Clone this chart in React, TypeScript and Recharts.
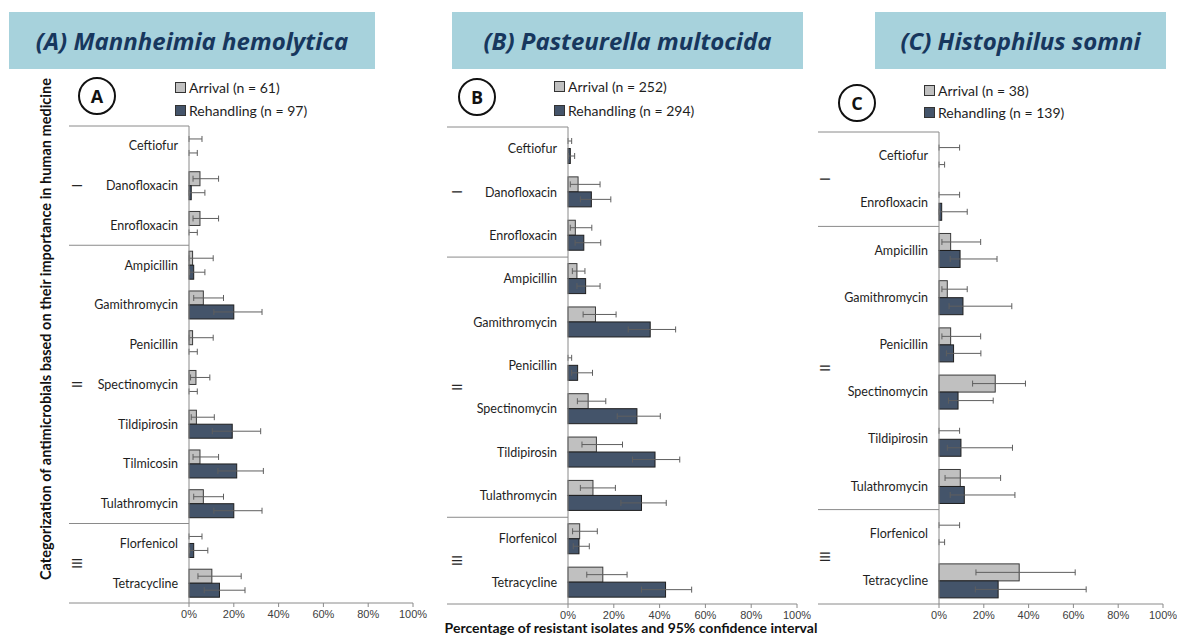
import React from "react"
import { BarChart, Bar, XAxis, YAxis, ErrorBar } from "recharts"

// (A) Mannheimia hemolytica
const categoriesA = ["Ceftiofur", "Danofloxacin", "Enrofloxacin", "Ampicillin", "Gamithromycin", "Penicillin", "Spectinomycin", "Tildipirosin", "Tilmicosin", "Tulathromycin", "Florfenicol", "Tetracycline"]
const groupsA = [3, 7, 2]
const arrivalA = [0, 4.9, 4.9, 1.6, 6.4, 1.6, 3.1, 3.3, 4.9, 6.4, 0, 10.2]
const arrivalLoA = [0, 1.8, 1.8, 0.1, 2.1, 0.1, 0.7, 1.0, 1.8, 2.1, 0, 4.0]
const arrivalHiA = [5.8, 13.2, 13.2, 10.8, 15.4, 10.8, 9.3, 11.3, 13.2, 15.4, 5.8, 23.3]
const rehandA = [0, 1.0, 0, 2.1, 20.0, 0, 0, 19.3, 21.3, 20.0, 2.1, 13.6]
const rehandLoA = [0, 0, 0, 0.3, 11.1, 0, 0, 10.4, 12.9, 11.1, 0.3, 6.8]
const rehandHiA = [3.7, 7.1, 3.7, 7.1, 32.6, 3.7, 3.7, 32.0, 33.2, 32.6, 8.4, 25.0]

// (B) Pasteurella multocida
const categoriesB = ["Ceftiofur", "Danofloxacin", "Enrofloxacin", "Ampicillin", "Gamithromycin", "Penicillin", "Spectinomycin", "Tildipirosin", "Tulathromycin", "Florfenicol", "Tetracycline"]
const groupsB = [3, 6, 2]
const arrivalB = [0, 4.4, 3.2, 3.9, 12.0, 0, 8.8, 12.4, 10.9, 5.1, 15.2]
const arrivalLoB = [0, 1.0, 1.0, 1.9, 6.6, 0, 4.1, 6.1, 5.4, 2.0, 8.2]
const arrivalHiB = [1.6, 14.0, 10.4, 7.4, 21.0, 1.6, 16.5, 23.8, 20.7, 12.8, 25.8]
const rehandB = [1.0, 10.2, 6.9, 7.7, 35.9, 4.2, 30.1, 38.0, 32.1, 4.8, 42.6]
const rehandLoB = [0.1, 5.4, 3.1, 3.9, 26.3, 1.6, 21.5, 28.2, 23.1, 2.3, 32.1]
const rehandHiB = [2.9, 18.7, 14.3, 14.0, 47.0, 10.7, 40.3, 48.8, 42.9, 9.3, 54.0]

// (C) Histophilus somni
const categoriesC = ["Ceftiofur", "Enrofloxacin", "Ampicillin", "Gamithromycin", "Penicillin", "Spectinomycin", "Tildipirosin", "Tulathromycin", "Florfenicol", "Tetracycline"]
const groupsC = [2, 6, 2]
const arrivalC = [0, 0, 5.2, 3.7, 5.2, 25.1, 0, 9.5, 0, 35.8]
const arrivalLoC = [0, 0, 1.3, 1.3, 1.3, 15.0, 0, 2.7, 0, 16.5]
const arrivalHiC = [9.2, 9.2, 18.6, 12.6, 18.6, 38.6, 9.2, 27.5, 9.2, 60.8]
const rehandC = [0, 1.2, 9.4, 10.7, 6.5, 8.5, 9.8, 11.3, 0, 26.4]
const rehandLoC = [0, 0, 5.0, 4.5, 3.3, 4.2, 3.7, 5.0, 0, 16.2]
const rehandHiC = [2.5, 12.6, 25.9, 32.5, 18.7, 24.2, 32.8, 33.9, 2.5, 65.7]

const xTicks = [0, 20, 40, 60, 80, 100]
const romans = ["I", "II", "III"]

const ARRIVAL_FILL = "#c0c0c0"
const REHAND_FILL = "#44546a"
const LINE = "#8a8a8a"
const LABEL_FONT = "Lato, 'Open Sans', sans-serif"

function buildRows(cats: string[], a: number[], aLo: number[], aHi: number[], r: number[], rLo: number[], rHi: number[]) {
  return cats.map((name, i) => ({
    name,
    arrival: a[i],
    arrivalErr: [a[i] - aLo[i], aHi[i] - a[i]],
    rehand: r[i],
    rehandErr: [r[i] - rLo[i], rHi[i] - r[i]],
  }))
}

interface PanelCfg {
  left: number
  width: number
  axisX: number // y-axis line, in chart coords
  frameX: number // where the category frame lines start
  romanX: number
  plotTop: number
  plotBottom: number
  plotRight: number
}

// y-axis tick: category label + group frame lines + roman numerals
function CategoryTick(props: any) {
  const { y, payload, index, cfg, groups, n } = props
  const c: PanelCfg = cfg
  const half =
    typeof payload?.offset === "number" && payload.offset > 0
      ? payload.offset
      : (c.plotBottom - c.plotTop) / n / 2

  const starts: number[] = []
  let acc = 0
  groups.forEach((g: number) => {
    starts.push(acc)
    acc += g
  })
  const gi = starts.indexOf(index)
  const romanY = y - half + (gi >= 0 ? groups[gi] : 0) * half

  return (
    <g>
      <text
        x={c.axisX - 11}
        y={y}
        textAnchor="end"
        dominantBaseline="central"
        fontFamily={LABEL_FONT}
        fontSize={12.5}
        fill="#1e1e1e"
      >
        {payload.value}
      </text>
      {gi >= 0 && (
        <line x1={c.frameX} x2={c.axisX} y1={y - half} y2={y - half} stroke={LINE} strokeWidth={1} />
      )}
      {gi >= 0 && (
        <text
          x={c.romanX}
          y={romanY}
          textAnchor="middle"
          dominantBaseline="central"
          fontFamily={LABEL_FONT}
          fontSize={13}
          fill="#262626"
          transform={`rotate(-90, ${c.romanX}, ${romanY})`}
        >
          {romans[gi]}
        </text>
      )}
      {index === n - 1 && (
        <line x1={c.frameX} x2={c.axisX} y1={y + half} y2={y + half} stroke={LINE} strokeWidth={1} />
      )}
    </g>
  )
}

// bar outline; zero-length bars draw nothing but still carry their error bar
function BarShape(props: any) {
  const { x, y, width, height, fill, stroke } = props
  if (!(width > 0.5)) return <g />
  return <rect x={x} y={y} width={width} height={height} fill={fill} stroke={stroke} strokeWidth={1} />
}

function Panel({ cfg, rows, groups }: { cfg: PanelCfg; rows: any[]; groups: number[] }) {
  const height = 642
  const n = rows.length
  return (
    <div style={{ position: "absolute", left: cfg.left, top: 0 }}>
      <BarChart
        width={cfg.width}
        height={height}
        data={rows}
        layout="vertical"
        barCategoryGap="15%"
        barGap={0}
        margin={{ top: cfg.plotTop, right: cfg.width - cfg.plotRight, left: 0, bottom: height - cfg.plotBottom - 30 }}
      >
        <XAxis
          type="number"
          domain={[0, 100]}
          ticks={xTicks}
          tickFormatter={(v) => `${v}%`}
          axisLine={{ stroke: LINE }}
          tickLine={{ stroke: LINE }}
          tickSize={4}
          tickMargin={3}
          height={30}
          tick={{ fontFamily: "'Liberation Sans', Arial, sans-serif", fontSize: 11, fill: "#404040" }}
        />
        <YAxis
          type="category"
          dataKey="name"
          width={cfg.axisX}
          interval={0}
          axisLine={{ stroke: LINE }}
          tickLine={false}
          tick={(p: any) => <CategoryTick {...p} cfg={cfg} groups={groups} n={n} />}
        />
        <Bar
          dataKey="arrival"
          fill={ARRIVAL_FILL}
          stroke="#3a3a3a"
          minPointSize={0.01}
          shape={<BarShape />}
          isAnimationActive={false}
        >
          <ErrorBar dataKey="arrivalErr" direction="x" width={3} stroke="#5f5f5f" strokeWidth={1} />
        </Bar>
        <Bar
          dataKey="rehand"
          fill={REHAND_FILL}
          stroke="#1f1f1f"
          minPointSize={0.01}
          shape={<BarShape />}
          isAnimationActive={false}
        >
          <ErrorBar dataKey="rehandErr" direction="x" width={3} stroke="#5f5f5f" strokeWidth={1} />
        </Bar>
      </BarChart>
    </div>
  )
}

function Banner({ left, width, text }: { left: number; width: number; text: string }) {
  return (
    <div
      style={{
        position: "absolute",
        left,
        top: 12,
        width,
        height: 57,
        background: "#a7d2dc",
        display: "flex",
        alignItems: "center",
        justifyContent: "center",
        fontFamily: "'Open Sans', sans-serif",
        fontWeight: 700,
        fontStyle: "italic",
        fontSize: 24,
        color: "#17375e",
      }}
    >
      {text}
    </div>
  )
}

function Circle({ cx, cy, letter }: { cx: number; cy: number; letter: string }) {
  return (
    <div
      style={{
        position: "absolute",
        left: cx - 19,
        top: cy - 19,
        width: 34,
        height: 34,
        border: "2px solid #111",
        borderRadius: "50%",
        display: "flex",
        alignItems: "center",
        justifyContent: "center",
        fontFamily: "'Open Sans', sans-serif",
        fontWeight: 700,
        fontSize: 18,
        color: "#111",
      }}
    >
      {letter}
    </div>
  )
}

function LegendItem({ x, y, fill, label }: { x: number; y: number; fill: string; label: string }) {
  return (
    <div
      style={{
        position: "absolute",
        left: x,
        top: y - 9,
        height: 18,
        display: "flex",
        alignItems: "center",
        fontFamily: LABEL_FONT,
        fontSize: 14,
        color: "#1e1e1e",
        whiteSpace: "nowrap",
      }}
    >
      <span style={{ width: 9, height: 9, background: fill, border: "1px solid #333", marginRight: 3 }} />
      {label}
    </div>
  )
}

const cfgA: PanelCfg = { left: 0, width: 430, axisX: 189, frameX: 69, romanX: 77, plotTop: 126, plotBottom: 603, plotRight: 413 }
const cfgB: PanelCfg = { left: 425, width: 390, axisX: 143, frameX: 22, romanX: 32, plotTop: 127, plotBottom: 604, plotRight: 372 }
const cfgC: PanelCfg = { left: 810, width: 367, axisX: 129, frameX: 8, romanX: 15, plotTop: 132, plotBottom: 604, plotRight: 353 }

export default function App() {
  const rowsA = buildRows(categoriesA, arrivalA, arrivalLoA, arrivalHiA, rehandA, rehandLoA, rehandHiA)
  const rowsB = buildRows(categoriesB, arrivalB, arrivalLoB, arrivalHiB, rehandB, rehandLoB, rehandHiB)
  const rowsC = buildRows(categoriesC, arrivalC, arrivalLoC, arrivalHiC, rehandC, rehandLoC, rehandHiC)

  return (
    <div style={{ position: "absolute", left: 0, top: 0, width: 1177, height: 642, background: "#fff", overflow: "hidden" }}>
      <Banner left={9} width={366} text="(A) Mannheimia hemolytica" />
      <Banner left={452} width={351} text="(B) Pasteurella multocida" />
      <Banner left={875} width={291} text="(C) Histophilus somni" />

      <Circle cx={97} cy={96} letter="A" />
      <Circle cx={477} cy={97} letter="B" />
      <Circle cx={857} cy={103} letter="C" />

      <LegendItem x={175} y={87} fill={ARRIVAL_FILL} label="Arrival (n = 61)" />
      <LegendItem x={175} y={110} fill={REHAND_FILL} label="Rehandling (n = 97)" />
      <LegendItem x={554} y={86} fill={ARRIVAL_FILL} label="Arrival (n = 252)" />
      <LegendItem x={554} y={110} fill={REHAND_FILL} label="Rehandling (n = 294)" />
      <LegendItem x={924} y={90} fill={ARRIVAL_FILL} label="Arrival (n = 38)" />
      <LegendItem x={924} y={112} fill={REHAND_FILL} label="Rehandling (n = 139)" />

      <Panel cfg={cfgA} rows={rowsA} groups={groupsA} />
      <Panel cfg={cfgB} rows={rowsB} groups={groupsB} />
      <Panel cfg={cfgC} rows={rowsC} groups={groupsC} />

      <div
        style={{
          position: "absolute",
          left: 45,
          top: 329,
          transform: "translate(-50%, -50%) rotate(-90deg)",
          whiteSpace: "nowrap",
          fontFamily: LABEL_FONT,
          fontWeight: 700,
          fontSize: 14.5,
          color: "#111",
        }}
      >
        Categorization of antimicrobials based on their importance in human medicine
      </div>
      <div
        style={{
          position: "absolute",
          left: 631,
          top: 627,
          transform: "translate(-50%, -50%)",
          whiteSpace: "nowrap",
          fontFamily: LABEL_FONT,
          fontWeight: 700,
          fontSize: 14,
          color: "#111",
        }}
      >
        Percentage of resistant isolates and 95% confidence interval
      </div>
    </div>
  )
}
